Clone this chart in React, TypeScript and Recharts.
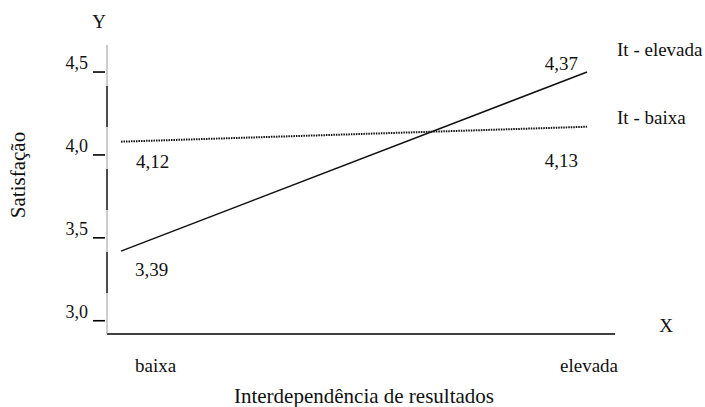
import React from 'react'
import { LineChart, Line, XAxis, YAxis, ReferenceLine, LabelList } from 'recharts'

// Interdependência de resultados (X) x Satisfação (Y), por nível de It
const levels = ['baixa', 'elevada']
const levelX = [0, 1]
const itElevada = [3.42, 4.5]
const itBaixa = [4.08, 4.17]
const itElevadaLabels = ['3,39', '4,37']
const itBaixaLabels = ['4,12', '4,13']
const yTicks = [3.0, 3.5, 4.0, 4.5]
const seriesNames = ['It - elevada', 'It - baixa']

const data = levelX.map((x, i) => ({
  x,
  level: levels[i],
  elevada: itElevada[i],
  baixa: itBaixa[i],
}))

const FONT = 'Liberation Serif'
const X_DOMAIN: [number, number] = [-0.03, 1.06]
const Y_DOMAIN: [number, number] = [2.92, 4.663]

const T = ({ size, children, ...rest }: any) => (
  <text
    fontFamily={FONT}
    fontSize={size}
    fill="#111"
    style={{ fontFamily: FONT, fontSize: size }}
    {...rest}
  >
    {children}
  </text>
)

const YTick = (props: any) => {
  const { x, y, payload } = props
  return (
    <g>
      <line x1={x - 14} x2={x - 2} y1={y} y2={y} stroke="#000" strokeWidth={1.6} />
      <T x={x - 19} y={y - 3} textAnchor="end" size={18}>
        {Number(payload.value).toFixed(1).replace('.', ',')}
      </T>
    </g>
  )
}

const XTick = (props: any) => {
  const { x, y, index } = props
  const first = index === 0
  return (
    <T x={first ? x + 14 : x + 2} y={y + 38} textAnchor={first ? 'start' : 'middle'} size={19}>
      {levels[index]}
    </T>
  )
}

type Off = { dx: number; dy: number; anchor: 'start' | 'end' }

const valueLabel = (texts: string[], offs: Off[]) => (props: any) => {
  const { x, y, index } = props
  const o = offs[index]
  return (
    <T x={x + o.dx} y={y + o.dy} textAnchor={o.anchor} size={19}>
      {texts[index]}
    </T>
  )
}

const nameLabel = (name: string, dx: number, dy: number) => (props: any) => {
  const { x, y, index } = props
  if (index !== data.length - 1) return null
  return (
    <T x={x + dx} y={y + dy} textAnchor="start" size={19}>
      {name}
    </T>
  )
}

export default function App() {
  return (
    <div style={{ position: 'absolute', left: 0, top: 0, width: 705, height: 407 }}>
      <LineChart
        width={705}
        height={407}
        data={data}
        margin={{ top: 45, right: 90, bottom: 0, left: 47 }}
      >
        <XAxis
          dataKey="x"
          type="number"
          domain={X_DOMAIN}
          ticks={levelX}
          height={73}
          tickSize={0}
          tickMargin={0}
          tickLine={false}
          tick={<XTick />}
          axisLine={{ stroke: '#000', strokeWidth: 1.5 }}
        />
        <YAxis
          type="number"
          domain={Y_DOMAIN}
          ticks={yTicks}
          width={60}
          tickSize={0}
          tickMargin={0}
          tickLine={false}
          tick={<YTick />}
          axisLine={{ stroke: '#9a9a9a', strokeWidth: 1 }}
        />
        <ReferenceLine
          x={X_DOMAIN[0]}
          stroke="#000"
          strokeWidth={2}
          strokeDasharray="41 42"
          strokeDashoffset={42}
        />
        <Line
          dataKey="baixa"
          stroke="#111"
          strokeWidth={2}
          strokeDasharray="1.5 1"
          dot={false}
          isAnimationActive={false}
        >
          <LabelList
            dataKey="baixa"
            content={valueLabel(itBaixaLabels, [
              { dx: 15, dy: 26, anchor: 'start' },
              { dx: -9, dy: 40, anchor: 'end' },
            ])}
          />
          <LabelList dataKey="baixa" content={nameLabel(seriesNames[1], 30, -3)} />
        </Line>
        <Line
          dataKey="elevada"
          stroke="#111"
          strokeWidth={1.5}
          dot={false}
          isAnimationActive={false}
        >
          <LabelList
            dataKey="elevada"
            content={valueLabel(itElevadaLabels, [
              { dx: 14, dy: 25, anchor: 'start' },
              { dx: -9, dy: -2, anchor: 'end' },
            ])}
          />
          <LabelList dataKey="elevada" content={nameLabel(seriesNames[0], 30, -16)} />
        </Line>
      </LineChart>
      <svg
        width={705}
        height={407}
        style={{ position: 'absolute', left: 0, top: 0, pointerEvents: 'none' }}
      >
        <T x={99} y={28} textAnchor="middle" size={19}>Y</T>
        <T x={666} y={332} textAnchor="middle" size={19}>X</T>
        <T transform="translate(25, 175) rotate(-90)" textAnchor="middle" size={21}>
          Satisfação
        </T>
        <T x={364} y={403} textAnchor="middle" size={21}>
          Interdependência de resultados
        </T>
      </svg>
    </div>
  )
}
